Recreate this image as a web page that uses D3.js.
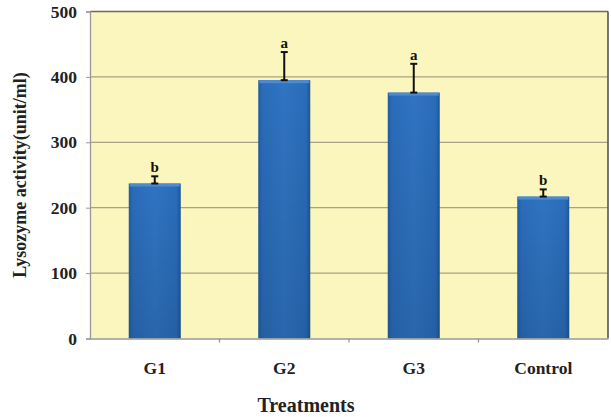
<!DOCTYPE html>
<html><head><meta charset="utf-8">
<script src="https://cdn.jsdelivr.net/npm/d3@7"></script>
<style>body{margin:0;background:#fff}svg{display:block}</style>
</head><body>
<svg id="c" width="611" height="417"></svg>
<script>
const categories = ["G1","G2","G3","Control"];
const values = [237, 395, 376, 217];
const errors = [11, 43, 44, 11];
const letters = ["b","a","a","b"];
const yTicks = [0,100,200,300,400,500];

const svg = d3.select("#c");
const m = {l:90, r:3, t:11.5, b:78.5};
const W = 611, H = 417;
const x = d3.scaleBand().domain(categories).range([m.l, W-m.r]).paddingInner(0).paddingOuter(0);
const y = d3.scaleLinear().domain([0,500]).range([H-m.b, m.t]);

const defs = svg.append("defs");
const g = defs.append("linearGradient").attr("id","bar").attr("x1","0").attr("x2","1").attr("y1","0").attr("y2","0");
g.append("stop").attr("offset","0").attr("stop-color","#1f5da6");
g.append("stop").attr("offset","0.08").attr("stop-color","#2a6cb9");
g.append("stop").attr("offset","0.5").attr("stop-color","#2f74c2");
g.append("stop").attr("offset","0.92").attr("stop-color","#2a6cb9");
g.append("stop").attr("offset","1").attr("stop-color","#1c5599");
const gv = defs.append("linearGradient").attr("id","shade").attr("x1","0").attr("x2","0").attr("y1","0").attr("y2","1");
gv.append("stop").attr("offset","0").attr("stop-color","#000").attr("stop-opacity","0");
gv.append("stop").attr("offset","1").attr("stop-color","#000").attr("stop-opacity","0.12");

// plot area
svg.append("rect").attr("x",m.l).attr("y",m.t).attr("width",W-m.r-m.l).attr("height",y(0)-m.t).attr("fill","#faf6bd");

// gridlines
svg.append("g").selectAll("line").data(yTicks.filter(d=>d>0 && d<500)).join("line")
  .attr("x1",m.l).attr("x2",W-m.r).attr("y1",d=>y(d)).attr("y2",d=>y(d))
  .attr("stroke","#a8a184").attr("stroke-width",1.3);

// borders top and right
svg.append("line").attr("x1",m.l).attr("x2",W-m.r).attr("y1",y(500)).attr("y2",y(500)).attr("stroke","#6e6a5e").attr("stroke-width",1.6);
svg.append("line").attr("x1",W-m.r).attr("x2",W-m.r).attr("y1",y(500)).attr("y2",y(0)).attr("stroke","#555").attr("stroke-width",1.6);

// bars
const bw = 52;
const bars = svg.append("g");
bars.selectAll("rect.b").data(values).join("rect").attr("class","b")
  .attr("x",(d,i)=>x(categories[i])+x.bandwidth()/2-bw/2).attr("width",bw)
  .attr("y",d=>y(d)).attr("height",d=>y(0)-y(d)).attr("fill","url(#bar)");
bars.selectAll("rect.s").data(values).join("rect").attr("class","s")
  .attr("x",(d,i)=>x(categories[i])+x.bandwidth()/2-bw/2).attr("width",bw)
  .attr("y",d=>y(d)).attr("height",d=>y(0)-y(d)).attr("fill","url(#shade)");
bars.selectAll("rect.t").data(values).join("rect").attr("class","t")
  .attr("x",(d,i)=>x(categories[i])+x.bandwidth()/2-bw/2+1).attr("width",bw-2)
  .attr("y",d=>y(d)).attr("height",3).attr("fill","#4d8ad0");

// error bars
const eb = svg.append("g").attr("stroke","#111").attr("stroke-width",2);
values.forEach((v,i)=>{
  const cx = x(categories[i])+x.bandwidth()/2;
  eb.append("line").attr("x1",cx).attr("x2",cx).attr("y1",y(v)).attr("y2",y(v+errors[i]));
  eb.append("line").attr("x1",cx-3.5).attr("x2",cx+3.5).attr("y1",y(v+errors[i])).attr("y2",y(v+errors[i]));
  eb.append("line").attr("x1",cx-3.5).attr("x2",cx+3.5).attr("y1",y(v)).attr("y2",y(v));
});
svg.append("g").selectAll("text").data(letters).join("text")
  .attr("x",(d,i)=>x(categories[i])+x.bandwidth()/2).attr("y",(d,i)=>y(values[i]+errors[i])-4)
  .attr("text-anchor","middle").attr("font-family","Liberation Serif").attr("font-weight","bold").attr("font-size",15)
  .attr("fill","#111").text(d=>d);

// y axis
const ya = svg.append("g").attr("transform",`translate(${m.l},0)`)
  .call(d3.axisLeft(y).tickValues(yTicks).tickSize(4).tickPadding(9));
ya.select(".domain").attr("stroke","#999").attr("stroke-width",1.3);
ya.selectAll(".tick line").attr("stroke","#999");
ya.selectAll("text").attr("font-family","Liberation Serif").attr("font-weight","bold").attr("font-size",17.5).attr("fill","#222");

// x axis
const xa = svg.append("g").attr("transform",`translate(0,${y(0)})`)
  .call(d3.axisBottom(x).tickSize(0).tickPadding(23.5));
xa.select(".domain").attr("stroke","#999").attr("stroke-width",1.3);
xa.selectAll("text").attr("font-family","Liberation Serif").attr("font-weight","bold").attr("font-size",17.5).attr("fill","#222");
svg.append("g").selectAll("line").data(categories.slice(1)).join("line")
  .attr("x1",d=>x(d)).attr("x2",d=>x(d)).attr("y1",y(0)).attr("y2",y(0)+4).attr("stroke","#999").attr("stroke-width",1.3);

// titles
svg.append("text").attr("transform",`translate(26,${(y(0)+y(500))/2}) rotate(-90)`)
  .attr("text-anchor","middle").attr("font-family","Liberation Serif").attr("font-weight","bold").attr("font-size",18)
  .attr("fill","#222").text("Lysozyme activity(unit/ml)");
svg.append("text").attr("x",306).attr("y",412)
  .attr("text-anchor","middle").attr("font-family","Liberation Serif").attr("font-weight","bold").attr("font-size",20)
  .attr("fill","#222").text("Treatments");
</script>
</body></html>
